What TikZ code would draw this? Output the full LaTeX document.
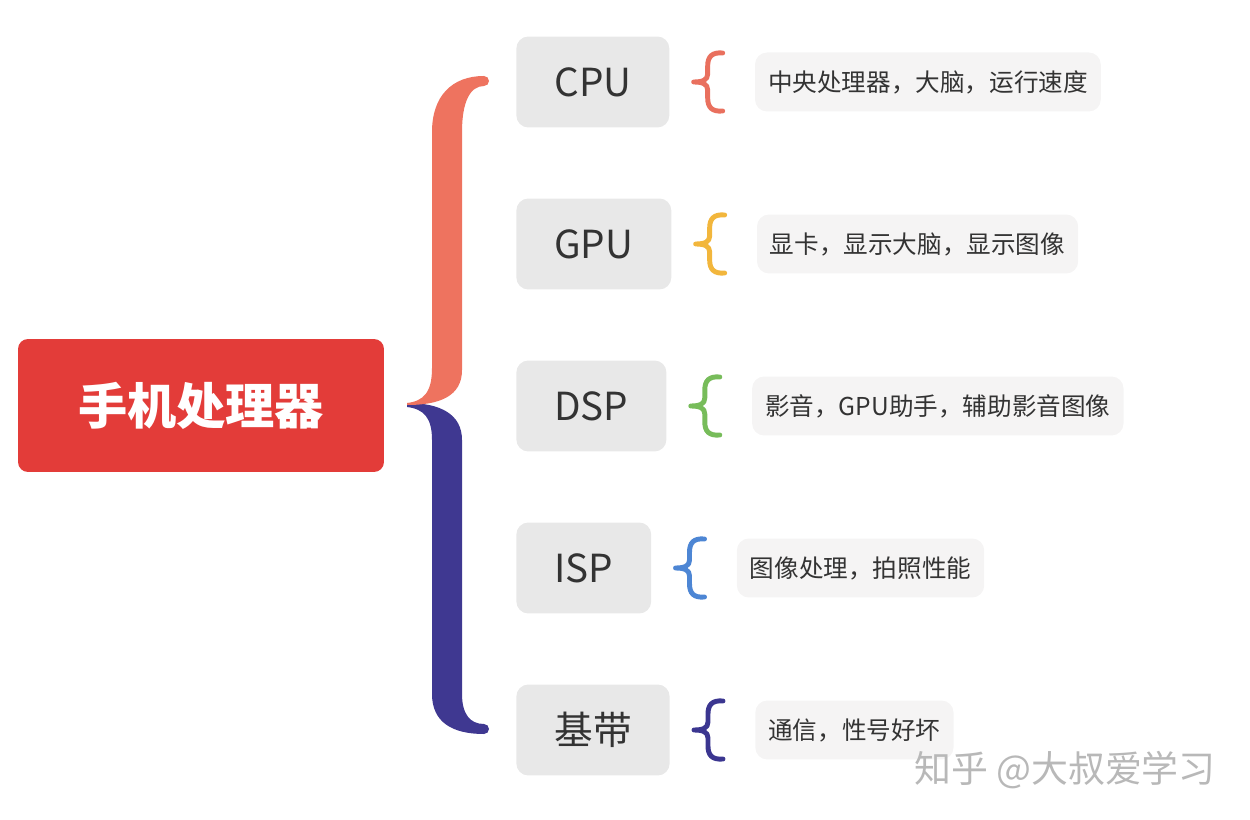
\documentclass[tikz,border=0pt]{standalone}
\usepackage{fontspec}
\setmainfont{Noto Sans CJK SC}
\usetikzlibrary{positioning}
\definecolor{rootred}{HTML}{E33C39}
\definecolor{midgray}{HTML}{E8E8E8}
\definecolor{leafgray}{HTML}{F5F4F4}
\definecolor{inktxt}{HTML}{333333}
\definecolor{braceorange}{HTML}{EE735F}
\definecolor{braceblue}{HTML}{3F3891}
\definecolor{cpuc}{HTML}{E9705E}
\definecolor{gpuc}{HTML}{F2B63C}
\definecolor{dspc}{HTML}{77BC5A}
\definecolor{ispc}{HTML}{4D86D4}
\definecolor{bbc}{HTML}{3B3690}

\begin{document}
\begin{tikzpicture}[x=0.02cm, y=-0.02cm,
  rootbox/.style={fill=rootred, rounded corners=0.2cm, minimum width=7.32cm, minimum height=2.66cm,
    text=white, font=\fontsize{28}{32}\selectfont\bfseries},
  unitbox/.style={fill=midgray, rounded corners=0.24cm, anchor=west, minimum height=1.82cm,
    inner xsep=0.76cm, text=inktxt, font=\fontsize{22}{26}\selectfont},
  notebox/.style={fill=leafgray, rounded corners=0.24cm, minimum height=1.18cm,
    inner xsep=0.26cm, text=inktxt, font=\fontsize{14}{17}\selectfont},
  leafbrace/.pic={
    \draw[line width=2.8pt, line cap=round, line join=round]
      (29,-29) .. controls (18,-30) and (14,-25) .. (14,-16) -- (14,-8)
      .. controls (14,-2) and (9,0) .. (0,0) .. controls (9,0) and (14,2) .. (14,8)
      -- (14,16) .. controls (14,25) and (18,30) .. (29,29);
  }]
\useasboundingbox (0,0) rectangle (1250,820);
% main topic
\node[rootbox] (root) at (201,405.5) {手机处理器};
% big brace, two halves
\fill[braceblue] (407,403) .. controls (440,403) and (462,414) .. (462,440)
  -- (462,694) .. controls (462,714) and (470,724) .. (484,724)
  arc[start angle=-90, end angle=90, radius=5]
  .. controls (452,734) and (432,722) .. (432,694)
  -- (432,440) .. controls (432,418) and (424,409) .. (407,407) -- cycle;
\fill[braceorange] (484,76) .. controls (452,76) and (432,96) .. (432,132)
  -- (432,368) .. controls (432,392) and (424,401) .. (407,403)
  -- (407,405) .. controls (440,405) and (462,396) .. (462,370)
  -- (462,132) .. controls (462,102) and (470,86) .. (484,86)
  arc[start angle=90, end angle=-90, radius=5] -- cycle;
% units
\node[unitbox] (cpu) at (516,82) {CPU};
\node[unitbox] (gpu) at (516,244) {GPU};
\node[unitbox] (dsp) at (516,406) {DSP};
\node[unitbox] (isp) at (516,568) {ISP};
\node[unitbox] (bb) at (516,730) {基带};
% notes
\node[notebox, right=1.7cm of cpu] (cpunote) {中央处理器，大脑，运行速度};
\node[notebox, right=1.7cm of gpu] (gpunote) {显卡，显示大脑，显示图像};
\node[notebox, right=1.7cm of dsp] (dspnote) {影音，GPU助手，辅助影音图像};
\node[notebox, right=1.7cm of isp] (ispnote) {图像处理，拍照性能};
\node[notebox, right=1.7cm of bb] (bbnote) {通信，性号好坏};
\foreach \n/\c in {cpu/cpuc, gpu/gpuc, dsp/dspc, isp/ispc, bb/bbc}
  \path (\n.east) ++(24,0) pic[color=\c] {leafbrace};
% watermark
\node[font=\fontsize{21}{25}\selectfont, text=black!28] (mark) at (1065,770) {知乎 @大叔爱学习};
\end{tikzpicture}
\end{document}
